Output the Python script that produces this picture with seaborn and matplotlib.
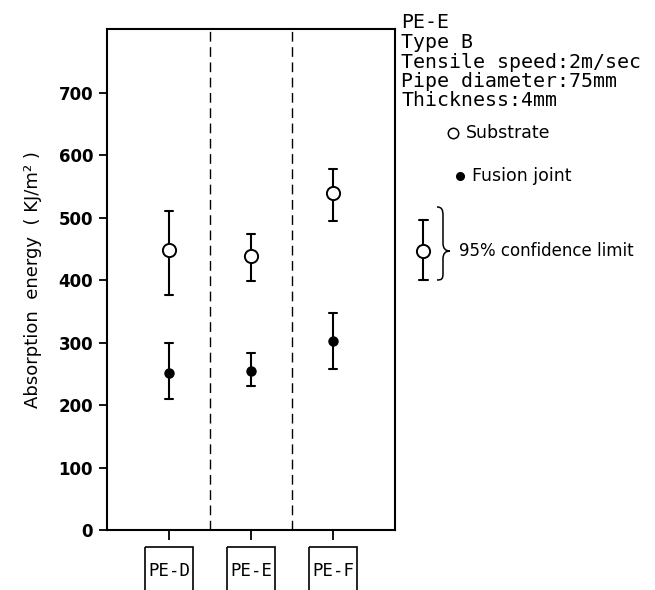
import numpy as np
import pandas as pd
import matplotlib
matplotlib.use("Agg")
import matplotlib.pyplot as plt
import seaborn as sns
from matplotlib.lines import Line2D
from matplotlib.patches import Rectangle, PathPatch
from matplotlib.path import Path

# ---------------- data ----------------
materials = ["PE-D", "PE-E", "PE-F"]
substrate_mean = [449, 439, 540]
substrate_low = [376, 398, 494]
substrate_high = [510, 474, 578]
fusion_mean = [251, 255, 303]
fusion_low = [209, 230, 257]
fusion_high = [299, 283, 347]
y_ticks = [0, 100, 200, 300, 400, 500, 600, 700]
info_lines = ["PE-E", "Type B", "Tensile speed:2m/sec",
              "Pipe diameter:75mm", "Thickness:4mm"]
legend_labels = ["Substrate", "Fusion joint"]
ci_label = "95% confidence limit"
y_label = "Absorption  energy  ( KJ/m\u00b2 )"

# long table: low / centre / high for each material & series
rows = []
for m, lo, c, hi in zip(materials, substrate_low, substrate_mean, substrate_high):
    for v in (lo, c, hi):
        rows.append({"material": m, "series": "Substrate", "value": v})
for m, lo, c, hi in zip(materials, fusion_low, fusion_mean, fusion_high):
    for v in (lo, c, hi):
        rows.append({"material": m, "series": "Fusion joint", "value": v})
df = pd.DataFrame(rows)

sns.set_style("ticks")
plt.rcParams["font.family"] = ["DejaVu Sans"]
plt.rcParams["text.color"] = "black"
plt.rcParams["axes.labelcolor"] = "black"
plt.rcParams["xtick.color"] = "black"
plt.rcParams["ytick.color"] = "black"

W, H = 655, 590
fig = plt.figure(figsize=(W / 100, H / 100), dpi=100)
ax = fig.add_axes([107 / W, 1 - 530 / H, (395 - 107) / W, (530 - 29) / H])

def minmax(v):
    return (np.min(v), np.max(v))

common = dict(x="material", y="value", order=materials, estimator="median",
              errorbar=minmax, linestyle="none", color="black",
              capsize=0.1, err_kws={"linewidth": 1.5, "zorder": 2}, ax=ax)

sns.pointplot(data=df[df.series == "Substrate"], marker="o",
              markersize=9.5, markerfacecolor="white", markeredgecolor="black",
              markeredgewidth=1.4, zorder=5, **common)
sns.pointplot(data=df[df.series == "Fusion joint"], marker="o",
              markersize=6.5, markerfacecolor="black", markeredgecolor="black",
              markeredgewidth=1.0, zorder=5, **common)

ax.set_xlim(-0.756, 2.756)
ax.set_ylim(0, 802)
ax.set_yticks(y_ticks)
ax.set_yticklabels([str(t) for t in y_ticks], fontsize=12, fontweight="bold")
ax.set_xticks(range(len(materials)))
ax.set_xticklabels(materials, family="DejaVu Sans Mono", fontsize=12.5)
ax.tick_params(axis="y", direction="out", length=6, width=1.3, pad=4, colors="black")
ax.tick_params(axis="x", direction="out", length=7, width=1.3, pad=16, colors="black")
ax.set_xlabel("")
ax.set_ylabel(y_label, fontsize=13, labelpad=12, color="black")

for s in ax.spines.values():
    s.set_visible(True)
    s.set_linewidth(1.5)
    s.set_color("black")

for xv in (0.5, 1.5):
    ax.axvline(xv, color="black", linewidth=1.0, linestyle=(0, (7, 4)), zorder=1)

# boxes around category labels
xtr = ax.get_xaxis_transform()
for i in range(len(materials)):
    ax.add_patch(Rectangle((i - 0.293, -0.034), 0.586, -0.13, transform=xtr,
                           fill=False, edgecolor="black", linewidth=1.2,
                           clip_on=False))

# ---------------- right-side annotations ----------------
def fx(px):
    return px / W

def fy(py):
    return 1 - py / H

for i, line in enumerate(info_lines):
    fig.text(fx(401), fy(23 + i * 19.5), line, family="DejaVu Sans Mono",
             fontsize=14.3, va="center", ha="left", color="black")

# legend entries
fig.add_artist(Line2D([fx(453)], [fy(133)], marker="o", markersize=7.5,
                      markerfacecolor="white", markeredgecolor="black",
                      markeredgewidth=1.1, linestyle="none"))
fig.text(fx(466), fy(133), legend_labels[0], fontsize=12.5, va="center",
         ha="left", color="black")
fig.add_artist(Line2D([fx(460)], [fy(176)], marker="o", markersize=5.5,
                      markerfacecolor="black", markeredgecolor="black",
                      linestyle="none"))
fig.text(fx(472), fy(176), legend_labels[1], fontsize=12.5, va="center",
         ha="left", color="black")

# confidence limit sample
ex, etop, ebot, ec = 423, 220, 280, 251
fig.add_artist(Line2D([fx(ex), fx(ex)], [fy(etop), fy(ebot)], color="black", linewidth=1.5))
for yy in (etop, ebot):
    fig.add_artist(Line2D([fx(ex - 4.5), fx(ex + 4.5)], [fy(yy), fy(yy)],
                          color="black", linewidth=1.5))
fig.add_artist(Line2D([fx(ex)], [fy(ec)], marker="o", markersize=9.5,
                      markerfacecolor="white", markeredgecolor="black",
                      markeredgewidth=1.4, linestyle="none"))

# curly brace
pts = [(437, 207), (442, 207), (443, 210), (443, 216),
       (443, 243),
       (443, 248), (445, 251), (450, 251),
       (445, 251), (443, 254), (443, 259),
       (443, 273),
       (443, 279), (442, 280), (437, 280)]
codes = [Path.MOVETO, Path.CURVE4, Path.CURVE4, Path.CURVE4,
         Path.LINETO,
         Path.CURVE4, Path.CURVE4, Path.CURVE4,
         Path.CURVE4, Path.CURVE4, Path.CURVE4,
         Path.LINETO,
         Path.CURVE4, Path.CURVE4, Path.CURVE4]
brace = Path([(fx(a), fy(b)) for a, b in pts], codes)
fig.add_artist(PathPatch(brace, fill=False, edgecolor="black", linewidth=1.1,
                         transform=fig.transFigure))
fig.text(fx(459), fy(251), ci_label, fontsize=12, va="center", ha="left",
         color="black")

fig.savefig("out.png", dpi=100)
